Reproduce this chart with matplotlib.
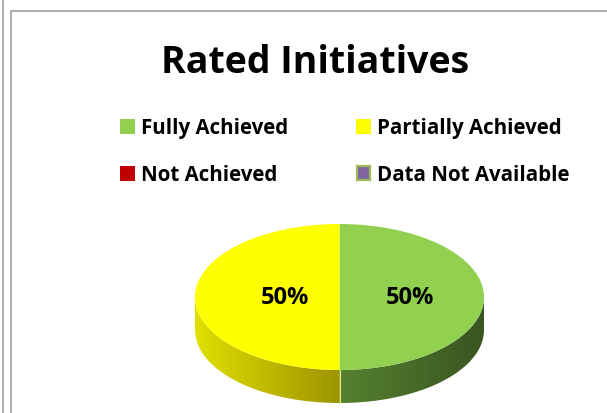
import numpy as np
import matplotlib
matplotlib.use("Agg")
import matplotlib.pyplot as plt
from matplotlib.patches import Polygon, Rectangle
from matplotlib.colors import LinearSegmentedColormap

# ---- data ----
title = "Rated Initiatives"
categories = ["Fully Achieved", "Partially Achieved", "Not Achieved", "Data Not Available"]
values = [50, 50, 0, 0]
face_colors = ["#92D050", "#FFFF00", "#C00000", "#8064A2"]
side_colors = [("#55812F", "#3A5522"), ("#E0E000", "#9C9400"), ("#8A0000", "#600000"), ("#5E4A78", "#44355A")]
legend_edges = [None, None, None, "#9BBB59"]

W, H = 607, 414
fig = plt.figure(figsize=(W / 100, H / 100), dpi=100)
fig.patch.set_facecolor("white")

FONT = ["Open Sans", "DejaVu Sans"]

# background axes in pixel coordinates
bg = fig.add_axes([0, 0, 1, 1])
bg.set_xlim(0, W)
bg.set_ylim(H, 0)
bg.axis("off")
bg.plot([2.5, 2.5], [0, H], color="#A6A6A6", lw=1.3)
bg.plot([11, 11, W], [H, 12, 12], color="#A6A6A6", lw=1.3)

bg.text(315, 63, title, ha="center", va="center", fontsize=27, fontweight="bold",
        family=FONT, color="black")

# legend (2 x 2 grid)
col_x = [120, 356]
row_y = [127, 174]
for i, (lab, col, ec) in enumerate(zip(categories, face_colors, legend_edges)):
    r, c = divmod(i, 2)
    x0, y0 = col_x[c], row_y[r]
    if ec:
        bg.add_patch(Rectangle((x0 + 0.8, y0 - 6.7), 13.4, 13.4, facecolor=col, edgecolor=ec, lw=1.6))
    else:
        bg.add_patch(Rectangle((x0, y0 - 7.5), 15, 15, facecolor=col, edgecolor="none"))
    bg.text(x0 + 21, y0 + 1.5, lab, ha="left", va="center", fontsize=14.8, fontweight="bold",
            family=FONT, color="black")

# ---- 3D-ish pie ----
cx, cy = 339.5, 298.0      # pixel centre of top face
ax_px, ay_px = 144.5, 73.0  # semi axes in pixels
depth = 33.0 / ay_px       # side depth in data units

xl = (-1.05, 1.05)
yl = (-1.0 - depth - 0.12, 1.06)
left = (cx + xl[0] * ax_px) / W
width = (xl[1] - xl[0]) * ax_px / W
bottom = (H - (cy - yl[0] * ay_px)) / H
height = (yl[1] - yl[0]) * ay_px / H
ax = fig.add_axes([left, bottom, width, height])

wedges, _ = ax.pie(values, colors=face_colors, startangle=90, counterclock=False,
                   radius=1, wedgeprops=dict(linewidth=0))
for w in wedges:
    w.set_zorder(3)
ax.set_aspect("auto")
ax.axis("off")

# side walls
for w, (c1, c2) in zip(wedges, side_colors):
    t = np.radians(np.linspace(w.theta1, w.theta2, 400))
    m = np.sin(t) <= 1e-9
    if m.sum() < 2:
        continue
    tt = t[m]
    xs, ys = np.cos(tt), np.sin(tt)
    pts = np.vstack([np.column_stack([xs, ys]), np.column_stack([xs[::-1], ys[::-1] - depth])])
    poly = Polygon(pts, closed=True, facecolor="none", edgecolor="none")
    ax.add_patch(poly)
    cmap = LinearSegmentedColormap.from_list("s", [c1, c2])
    grad = np.linspace(0, 1, 256).reshape(1, -1)
    im = ax.imshow(grad, cmap=cmap, extent=(xs.min(), xs.max(), ys.min() - depth, ys.max()),
                   aspect="auto", zorder=2, interpolation="bilinear")
    im.set_clip_path(poly)

# divider line on the side
ax.plot([0, 0], [-1, -1 - depth], color="#E8E870", lw=0.8, zorder=2.5)
ax.set_xlim(*xl)
ax.set_ylim(*yl)

# percentage labels
total = sum(values)
label_px = {0: (410, 298), 1: (285, 298)}
for i, v in enumerate(values):
    if v == 0:
        continue
    px, py = label_px[i]
    bg.text(px, py, f"{round(100 * v / total)}%", ha="center", va="center", fontsize=17,
            fontweight="bold", family=FONT, color="black", zorder=10)
bg.set_zorder(5)
bg.patch.set_alpha(0)

fig.savefig("out.png", dpi=100)
